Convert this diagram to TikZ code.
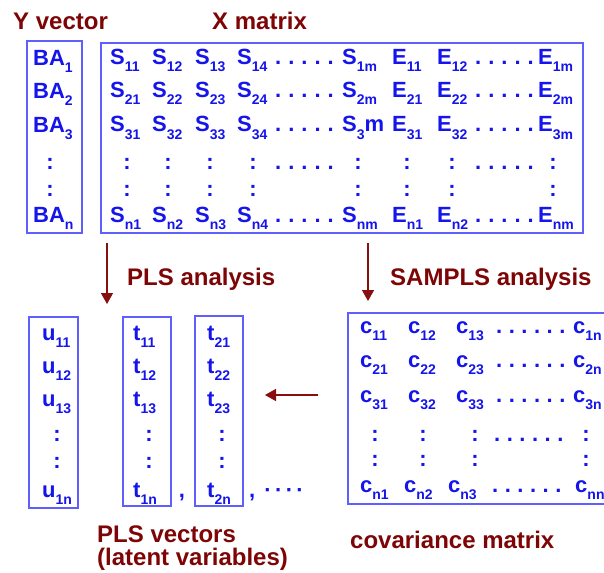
\documentclass[tikz,border=0pt]{standalone}
\usepackage{fontspec}
\setmainfont{Liberation Sans}
\usetikzlibrary{arrows.meta}
\definecolor{eblue}{RGB}{20,20,235}
\definecolor{boxblue}{RGB}{95,95,255}
\definecolor{lblred}{RGB}{125,5,5}
\definecolor{arrred}{RGB}{135,15,15}
\newcommand\ent[2]{#1\raisebox{-7pt}{\fontsize{14}{16}\selectfont #2}}
\newcommand\dotfive{.\kern7pt.\kern7pt.\kern7pt.\kern7pt.}
\newcommand\dotsix{.\kern6.5pt.\kern6.5pt.\kern6.5pt.\kern6.5pt.\kern6.5pt.}
\begin{document}
\begin{tikzpicture}[x=1pt,y=-1pt,
  ent/.style={anchor=base west,inner sep=0pt,text=eblue,font=\fontsize{22}{26}\selectfont\bfseries},
  col/.style={anchor=base,inner sep=0pt,text=eblue,font=\fontsize{22}{26}\selectfont\bfseries},
  lbl/.style={anchor=base west,inner sep=0pt,text=lblred,font=\fontsize{24}{28}\selectfont\bfseries},
  boxsty/.style={draw=boxblue,line width=1.2pt,inner sep=0pt},
  arr/.style={draw=arrred,line width=1.5pt,-{Triangle[width=12pt,length=11pt]}}]
\useasboundingbox (0,0) rectangle (604,572);
\clip (0,0) rectangle (604,572);
% titles
\node[lbl] (ytitle) at (13,30) {Y vector};
\node[lbl] (xtitle) at (212,30) {X matrix};
% boxes
\node[boxsty,minimum width=55pt,minimum height=192pt] (ybox) at (54.5,137) {};
\node[boxsty,minimum width=482pt,minimum height=190pt] (xbox) at (342,138) {};
\node[boxsty,minimum width=49pt,minimum height=191pt] (ubox) at (53.5,412.5) {};
\node[boxsty,minimum width=48pt,minimum height=189pt] (t1box) at (147,411.5) {};
\node[boxsty,minimum width=48pt,minimum height=190pt] (t2box) at (219,411) {};
\node[boxsty,minimum width=300pt,minimum height=191pt] (cbox) at (498,408.5) {};
% Y vector
\node[ent] (ba1) at (33,66) {\ent{BA}{1}};
\node[ent] (ba2) at (33,99) {\ent{BA}{2}};
\node[ent] (ba3) at (33,133) {\ent{BA}{3}};
\node[col] (bac1) at (50,169) {:};
\node[col] (bac2) at (50,196) {:};
\node[ent] (ban) at (33,222) {\ent{BA}{n}};
% X matrix rows 1-3
\foreach \r/\yy in {1/65,2/98,3/132}{
  \foreach \x [count=\c] in {110,152,195,237}
    \node[ent] (s\r\c) at (\x,\yy) {\ent{S}{\r\c}};
  \node[ent] (sd\r) at (275,\yy) {\dotfive};
  \node[ent] (e\r1) at (392,\yy) {\ent{E}{\r1}};
  \node[ent] (e\r2) at (437,\yy) {\ent{E}{\r2}};
  \node[ent] (ed\r) at (475,\yy) {\dotfive};
  \node[ent] (e\r m) at (538,\yy) {\ent{E}{\r m}};
}
\node[ent] (s1m) at (342,65) {\ent{S}{1m}};
\node[ent] (s2m) at (342,98) {\ent{S}{2m}};
\node[ent] (s3m) at (342,132) {\ent{S}{3}m};
% colon rows
\foreach \x [count=\c] in {127,168,210,253,358,407,452,553}{
  \node[col] (xca\c) at (\x,169) {:};
  \node[col] (xcb\c) at (\x,196) {:};
}
\node[ent] (xcd1) at (275,169) {\dotfive};
\node[ent] (xcd2) at (475,169) {\dotfive};
% X row n
\foreach \x [count=\c] in {110,152,195,237}
  \node[ent] (sn\c) at (\x,222) {\ent{S}{n\c}};
\node[ent] (snd) at (275,222) {\dotfive};
\node[ent] (snm) at (342,222) {\ent{S}{nm}};
\node[ent] (en1) at (392,222) {\ent{E}{n1}};
\node[ent] (en2) at (437,222) {\ent{E}{n2}};
\node[ent] (end) at (475,222) {\dotfive};
\node[ent] (enm) at (538,222) {\ent{E}{nm}};
% arrows and labels
\coordinate (pa1) at (107,243);
\coordinate (pa2) at (107,304);
\draw[arr] (pa1) -- (pa2);
\node[lbl] (plsan) at (127,285) {PLS analysis};
\coordinate (sa1) at (368,243);
\coordinate (sa2) at (368,301);
\draw[arr] (sa1) -- (sa2);
\node[lbl] (samplsan) at (390,285) {SAMPLS analysis};
\coordinate (ha1) at (318,395);
\coordinate (ha2) at (265,395);
\draw[arr] (ha1) -- (ha2);
% u vector
\node[ent] (u1) at (42,340) {\ent{u}{11}};
\node[ent] (u2) at (42,373) {\ent{u}{12}};
\node[ent] (u3) at (42,406) {\ent{u}{13}};
\node[col] (uc1) at (57,441) {:};
\node[col] (uc2) at (57,468) {:};
\node[ent] (un) at (42,497) {\ent{u}{1n}};
% t vectors
\foreach \v/\x/\cx in {1/133/149,2/207/222}{
  \node[ent] (t\v a) at (\x,340) {\ent{t}{\v1}};
  \node[ent] (t\v b) at (\x,373) {\ent{t}{\v2}};
  \node[ent] (t\v c) at (\x,406) {\ent{t}{\v3}};
  \node[col] (t\v d) at (\cx,441) {:};
  \node[col] (t\v e) at (\cx,468) {:};
  \node[ent] (t\v n) at (\x,497) {\ent{t}{\v n}};
}
\node[col] (comma1) at (182,497) {,};
\node[ent] (comma2) at (249,497) {,\kern9pt·\kern3.4pt·\kern3.4pt·\kern3.4pt·};
% covariance matrix
\foreach \r/\yy in {1/333,2/367,3/402}{
  \node[ent] (c\r1) at (360,\yy) {\ent{c}{\r1}};
  \node[ent] (c\r2) at (408,\yy) {\ent{c}{\r2}};
  \node[ent] (c\r3) at (456,\yy) {\ent{c}{\r3}};
  \node[ent] (cd\r) at (496,\yy) {\dotsix};
  \node[ent] (c\r n) at (573,\yy) {\ent{c}{\r n}};
}
\foreach \x [count=\c] in {375,423,475,586}{
  \node[col] (cca\c) at (\x,441) {:};
  \node[col] (ccb\c) at (\x,466) {:};
}
\node[ent] (ccd) at (494,441) {\dotsix};
\node[ent] (cn1) at (360,492) {\ent{c}{n1}};
\node[ent] (cn2) at (404,492) {\ent{c}{n2}};
\node[ent] (cn3) at (448,492) {\ent{c}{n3}};
\node[ent] (cnd) at (492,492) {\dotsix};
\node[ent] (cnn) at (575,492) {\ent{c}{nn}};
% bottom labels
\node[lbl] (plsv) at (97,542) {PLS vectors};
\node[lbl] (latent) at (97,565) {(latent variables)};
\node[lbl] (covm) at (350,548) {covariance matrix};
\end{tikzpicture}
\end{document}
